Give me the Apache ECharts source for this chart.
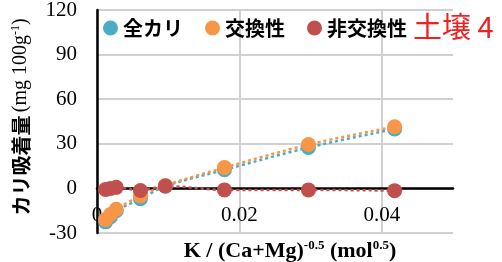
<!DOCTYPE html>
<html>
<head>
<meta charset="utf-8">
<script src="https://cdn.jsdelivr.net/npm/echarts@6/dist/echarts.min.js"></script>
<style>
  html, body { margin: 0; padding: 0; background: #fff; }
  #chart { width: 502px; height: 262px; }
</style>
</head>
<body>
<div id="chart"></div>
<script>
// K / (Ca+Mg)^-0.5 values shared by all three series
var kRatio = [0.0012, 0.0019, 0.0027, 0.0061, 0.0096, 0.0179, 0.0297, 0.0418];
var totalK = [-22.5, -19, -15, -7, 1.5, 12.5, 27.5, 40];
var exchK = [-21, -17.5, -14, -5, 2, 14, 29.5, 41.5];
var nonExchK = [-0.7, 0, 0.7, -1.4, 1.6, -1, -1, -1.5];
var seriesNames = ['全カリ', '交換性', '非交換性'];
var xTicks = [0, 0.02, 0.04];

function pairs(ys) {
    return ys.map(function (y, i) { return [kRatio[i], y]; });
}

var colors = ['#4bacc6', '#f79646', '#c0504d'];
var serif = 'Liberation Serif';
var jp = 'Noto Sans CJK JP';

// grid: top 10, bottom 29 -> height 223; y = 0 sits 30/150 of it above the bottom
var gridTop = 10, gridBottom = 29, chartH = 262;
var zeroOffset = -(chartH - gridTop - gridBottom) * 30 / 150;

var chart = echarts.init(document.getElementById('chart'));

function makeSeries(name, ys, color) {
    return {
        name: name,
        type: 'line',
        data: pairs(ys),
        smooth: 0.3,
        symbol: 'circle',
        symbolSize: 15,
        itemStyle: { color: color },
        lineStyle: { color: color, width: 2.5, type: [3, 3] },
        emphasis: { disabled: true },
        z: 3
    };
}

chart.setOption({
    animation: false,
    color: colors,
    grid: { left: 97, right: 49, top: gridTop, bottom: gridBottom, outerBoundsMode: 'none' },
    legend: {
        data: seriesNames,
        icon: 'circle',
        left: 103,
        top: 18,
        padding: 0,
        itemWidth: 15,
        itemHeight: 15,
        itemGap: 22,
        formatter: function (name) {
            var key = name === '全カリ' ? 'a' : (name === '交換性' ? 'b' : 'c');
            return '{' + key + '|' + name + '}';
        },
        textStyle: {
            color: '#000',
            fontFamily: jp,
            fontWeight: 'bold',
            fontSize: 20,
            rich: {
                a: { width: 52, fontFamily: jp, fontWeight: 'bold', fontSize: 20, color: '#000' },
                b: { width: 61, fontFamily: jp, fontWeight: 'bold', fontSize: 20, color: '#000' },
                c: { width: 84, fontFamily: jp, fontWeight: 'bold', fontSize: 20, color: '#000' }
            }
        }
    },
    xAxis: {
        type: 'value',
        min: 0,
        max: 0.05,
        interval: 0.02,
        offset: zeroOffset,
        axisLine: { onZero: false, lineStyle: { color: '#000', width: 2.5 } },
        axisTick: { show: false, customValues: xTicks },
        axisLabel: {
            customValues: xTicks,
            margin: 17,
            fontFamily: serif,
            fontSize: 21,
            color: '#000'
        },
        splitLine: { show: true, lineStyle: { color: '#d0d0d0', width: 2 } }
    },
    yAxis: {
        type: 'value',
        min: -30,
        max: 120,
        interval: 30,
        axisLine: { show: true, lineStyle: { color: '#000', width: 2.5 } },
        axisTick: { show: false },
        axisLabel: {
            margin: 20,
            fontFamily: serif,
            fontSize: 21,
            color: '#000'
        },
        splitLine: { show: true, lineStyle: { color: '#d0d0d0', width: 2 } }
    },
    graphic: [
        {
            type: 'text',
            left: 413,
            top: 12,
            style: { text: '土壌 4', fill: '#ee2020', font: '29px "Noto Sans CJK JP"' }
        },
        {
            type: 'text',
            left: 108,
            top: -24,
            style: { text: '交換性カリの吸着量', fill: '#ee2020', font: '24px "Noto Sans CJK JP"' }
        },
        {
            type: 'text',
            x: 290,
            y: 251,
            style: {
                text: '{n|K / (Ca+Mg)}{s|-0.5}{n| (mol}{s|0.5}{n|)}',
                align: 'center',
                verticalAlign: 'middle',
                rich: {
                    n: { font: 'bold 22px "Liberation Serif"', fill: '#000', lineHeight: 24 },
                    s: { font: 'bold 13px "Liberation Serif"', fill: '#000', verticalAlign: 'top', lineHeight: 24 }
                }
            }
        },
        {
            type: 'text',
            x: 21,
            y: 117,
            rotation: Math.PI / 2,
            style: {
                text: '{j|カリ吸着量} {n|(mg 100g}{s|-1}{n|)}',
                align: 'center',
                verticalAlign: 'middle',
                rich: {
                    j: { font: 'bold 20px "Noto Sans CJK JP"', fill: '#000', lineHeight: 22 },
                    n: { font: '20px "Liberation Serif"', fill: '#000', lineHeight: 22 },
                    s: { font: '12px "Liberation Serif"', fill: '#000', verticalAlign: 'top', lineHeight: 22 }
                }
            }
        }
    ],
    series: [
        makeSeries(seriesNames[0], totalK, colors[0]),
        makeSeries(seriesNames[1], exchK, colors[1]),
        makeSeries(seriesNames[2], nonExchK, colors[2])
    ]
});
</script>
</body>
</html>
